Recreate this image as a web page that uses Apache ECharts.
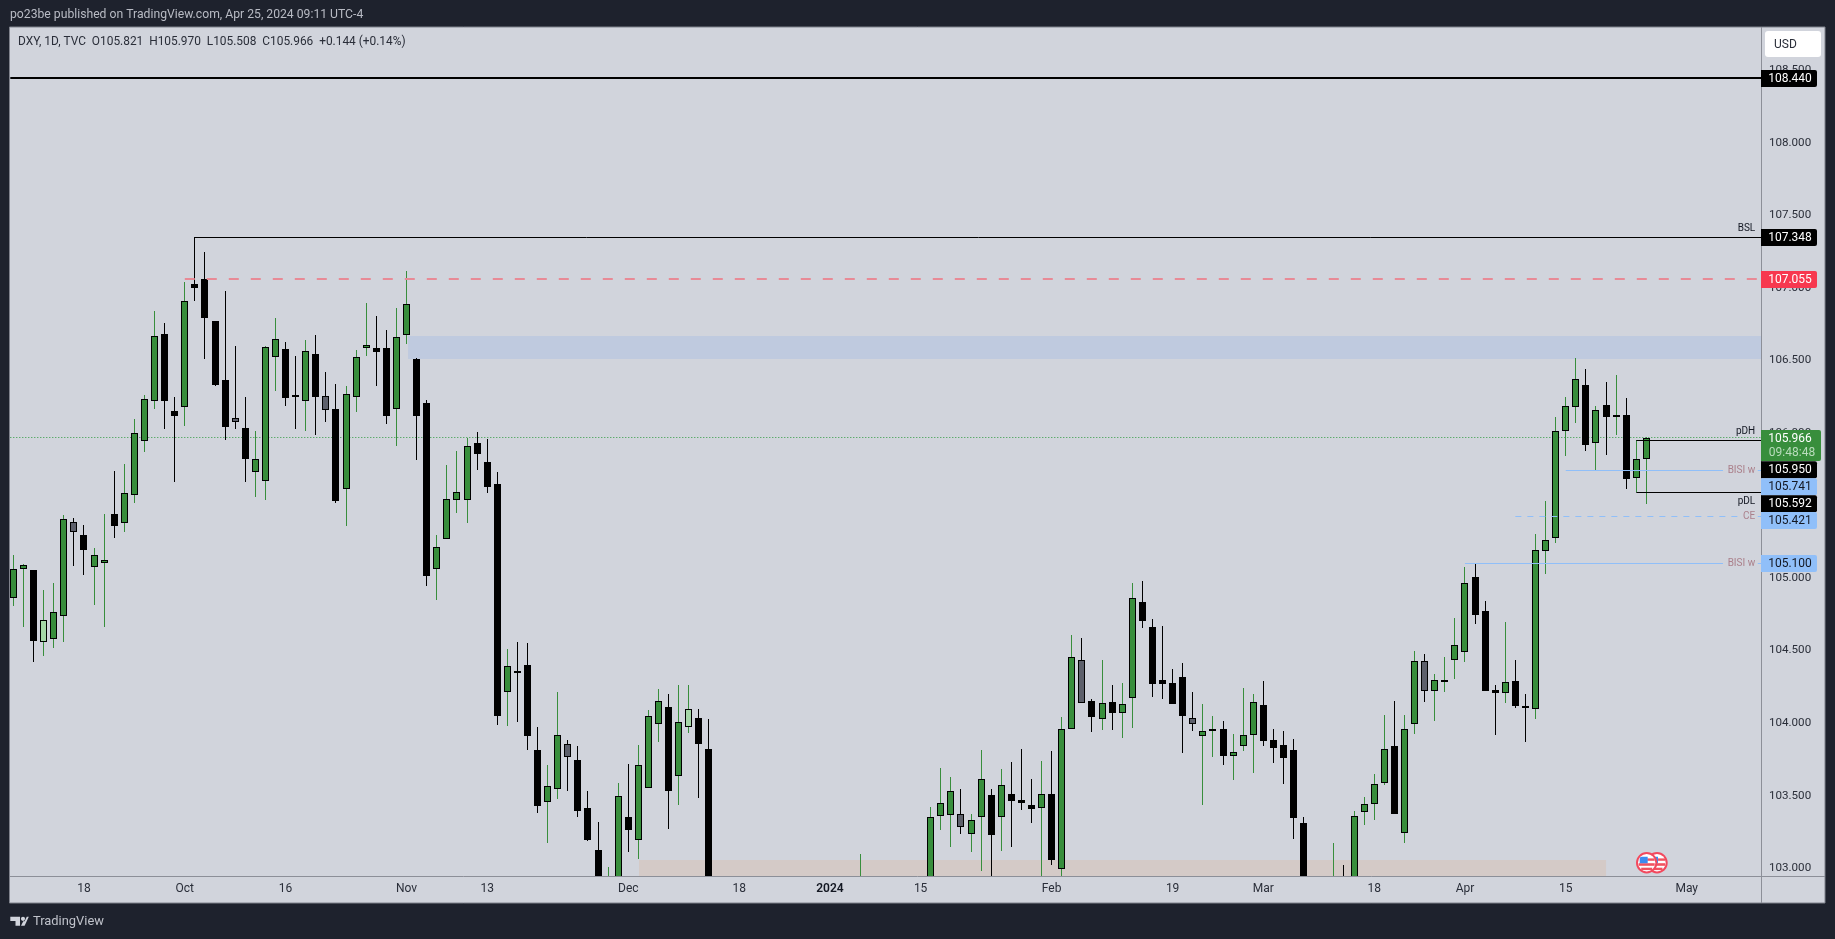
<!DOCTYPE html>
<html><head><meta charset="utf-8">
<style>html,body{margin:0;padding:0;background:#1e222d;overflow:hidden}#c{width:1835px;height:939px}</style>
<script src="https://cdn.jsdelivr.net/npm/echarts@6/dist/echarts.min.js"></script>
</head><body><div id="c"></div>
<script>
const n14=[null,null,null,null,null,null,null,null,null,null,null,null,null,null];
const n6=[null,null,null,null,null,null];
const opens=[104.859,105.059,105.055,104.556,104.577,104.735,105.383,105.294,105.078,105.105,
105.441,105.381,105.569,105.941,106.217,106.679,106.148,106.176,107.023,107.058,
106.768,106.362,106.100,106.031,105.728,105.670,106.520,106.575,106.261,106.217,
106.541,106.252,106.162,105.611,106.245,106.582,106.582,106.582,106.162,106.672,
106.509,106.203,105.064,105.266,105.535,105.535,105.928,105.799,105.645,104.212,
104.356,104.398,103.812,103.458,103.543,103.853,103.743,103.412,103.125,102.600,
102.750,103.350,103.192,103.550,103.991,104.108,103.633,103.975,104.032,103.819,
...n14,102.450,...n6,102.800,103.357,103.364,103.371,103.233,103.350,103.502,103.350,103.508,
103.467,103.433,103.412,103.508,102.992,103.957,104.432,104.150,104.025,104.143,
104.071,104.170,104.832,104.659,104.294,104.274,104.315,104.032,103.908,103.943,
103.957,103.775,103.839,103.915,104.122,103.881,103.846,103.812,103.309,null,
null,102.600,102.900,102.800,103.385,103.440,103.584,103.839,103.240,103.991,
104.425,104.218,104.287,104.432,104.487,105.004,104.770,104.228,104.205,104.287,
104.117,104.094,105.183,105.273,106.010,106.176,106.327,105.928,106.190,106.116,
106.121,105.691,105.821];
const highs=[105.158,105.094,105.055,104.917,104.963,105.431,105.413,105.365,105.204,105.438,
105.737,105.785,106.093,106.258,106.840,106.755,106.245,107.037,107.348,107.244,
106.768,106.977,106.598,106.245,106.013,106.601,106.789,106.624,106.527,106.638,
106.672,106.417,106.334,106.320,106.571,106.893,106.803,106.706,106.858,107.115,
106.513,106.226,105.296,105.778,105.875,105.962,106.006,105.958,105.730,104.510,
104.556,104.552,103.973,103.711,104.214,103.881,103.842,103.529,103.318,103.008,
103.584,103.715,103.846,104.090,104.232,104.198,104.260,104.260,104.094,104.025,
...n14,103.097,...n6,103.419,103.688,103.626,103.543,103.371,103.814,103.543,103.683,103.731,
103.819,103.614,103.736,103.807,104.039,104.604,104.584,104.163,104.432,104.260,
104.274,104.965,104.976,104.715,104.666,104.370,104.411,104.212,104.129,104.046,
104.012,103.922,104.239,104.200,104.287,103.957,103.943,103.888,103.350,null,
null,103.171,103.022,103.391,103.490,103.646,104.053,104.150,104.053,104.494,
104.473,104.336,104.453,104.721,105.073,105.101,104.841,104.260,104.696,104.434,
104.200,105.303,105.528,106.107,106.247,106.513,106.438,106.185,106.348,106.399,
106.238,105.950,105.970];
const lows=[104.809,104.664,104.423,104.464,104.519,104.561,105.085,105.022,104.816,104.664,
105.278,105.317,105.519,105.870,106.167,106.024,105.663,106.049,106.911,106.511,
106.325,105.953,106.029,105.663,105.560,105.539,106.291,106.187,106.029,106.015,
105.983,106.077,105.519,105.360,106.144,106.532,106.323,106.063,105.912,106.615,
105.813,104.947,104.848,105.266,105.450,105.381,105.744,105.588,103.986,103.982,
104.009,103.816,103.382,103.175,103.476,103.534,103.355,103.189,102.700,102.500,
102.700,103.113,103.065,103.550,103.872,103.270,103.437,103.934,103.486,102.700,
...n14,102.400,...n6,102.700,103.263,103.148,103.238,103.113,102.980,102.900,103.118,103.146,
103.403,103.313,102.900,103.022,102.940,103.957,104.136,103.940,103.952,103.952,
103.897,103.966,104.655,104.179,104.168,104.133,103.796,103.947,103.437,103.768,
103.711,103.610,103.810,103.658,103.844,103.725,103.582,103.203,102.750,null,
null,102.500,102.600,102.750,103.297,103.334,103.573,103.375,103.175,103.927,
104.145,104.014,104.214,104.303,104.423,104.685,104.223,103.920,104.136,104.101,
103.869,104.025,105.029,105.243,105.843,106.070,105.877,105.744,105.847,105.985,
105.613,105.592,105.508];
const closes=[105.059,105.087,104.568,104.708,104.763,105.404,105.319,105.195,105.156,105.121,
105.360,105.583,105.997,106.231,106.665,106.222,106.118,106.906,107.000,106.794,
106.332,106.042,106.077,105.822,105.817,106.594,106.644,106.242,106.254,106.562,
106.249,106.160,105.533,106.270,106.525,106.603,106.559,106.118,106.663,106.886,
106.118,105.016,105.211,105.542,105.590,105.907,105.856,105.629,104.051,104.391,
104.347,103.913,103.430,103.564,103.915,103.764,103.396,103.194,102.850,102.850,
103.495,103.265,103.708,104.046,104.150,103.534,104.005,104.094,103.858,102.750,
...n14,102.700,...n6,103.350,103.447,103.529,103.281,103.329,103.612,103.231,103.571,103.465,
103.451,103.410,103.508,103.058,103.957,104.453,104.136,104.044,104.136,104.071,
104.129,104.859,104.705,104.271,104.271,104.133,104.051,103.991,103.943,103.957,
103.775,103.803,103.915,104.143,103.878,103.830,103.761,103.348,102.800,null,
null,102.850,102.700,103.357,103.440,103.578,103.819,103.375,103.961,104.425,
104.218,104.294,104.294,104.535,104.963,104.747,104.223,104.205,104.280,104.120,
104.108,105.190,105.259,106.010,106.183,106.369,105.918,106.155,106.111,106.121,
105.684,105.817,105.966];
const greyBars=[6,22,31,55,94,106,117,140];
const lightBars=[3,67,119];

const timeIndexes=[7,17,27,39,47,61,72,81,90,103,115,124,135,144,154,166];
const timeLabels=['18','Oct','16','Nov','13','Dec','18','2024','15','Feb','19','Mar','18','Apr','15','May'];
const priceTicks=[103,103.5,104,104.5,105,105.5,106,106.5,107,107.5,108,108.5];

const zoneStarts=[39.15,62.06];
const zoneEnds=[173.47,158];
const zoneTops=[106.667,103.056];
const zoneBottoms=[106.509,102.944];

const levelValues=[108.447,107.348,107.06,105.95,105.592,105.741,105.741,105.421,105.421,105.1,105.1];
const levelStarts=[-0.31,18,17,161,161,154,173.05,149,173.05,144,173.05];
const levelEnds=[173.47,173.47,173.47,173.47,173.47,169.6,173.47,171.5,173.47,169.6,173.47];
const levelKinds=['heavy','thin','red','thin','thin','blue','blue','blueDash','blueDash','blue','blue'];
const lastPrice=[105.966];

const noteTexts=['BSL','pDH','pDL','BISI w','CE','BISI w'];
const noteValues=[107.348,105.95,105.592,105.741,105.421,105.1];

const tagTexts=['108.440','107.348','107.055','105.950','105.741','105.592','105.421','105.100'];
const tagKinds=['black','black','red','black','blue','black','blue','blue'];
const tagTops=[70,229,271,461.3,478.3,495.3,512,555];

const kindStyle={
 heavy:{stroke:'#000',lineWidth:2},
 thin:{stroke:'#000',lineWidth:1},
 red:{stroke:'#e88a96',lineWidth:2,lineDash:[10,12]},
 blue:{stroke:'#90bff9',lineWidth:1},
 blueDash:{stroke:'#90bff9',lineWidth:1,lineDash:[6,6]},
 dot:{stroke:'#2e9b3e',lineWidth:1,lineDash:[1,2]}
};
const noteStyle={0:['#131722',-9],1:['#131722',-9],2:['#131722',9],3:['#ab808b',0],4:['#ab808b',0],5:['#ab808b',0]};
const tagFill={black:'#000',red:'#f7384f',blue:'#90bff9'};
const tagInk={black:'#fff',red:'#fff',blue:'#131722'};
const GREEN='#388e3c',FONT='Roboto, "Liberation Sans", sans-serif';

const X0=10.3,Y0=27.5,XR=1762,YB=876.3;
const candleRows=opens.map((o,i)=>o==null?null:[i,o,highs[i],lows[i],closes[i]]).filter(Boolean);

function renderCandle(params,api){
  const i=api.value(0),o=api.value(1),h=api.value(2),l=api.value(3),c=api.value(4);
  const up=c>=o;
  const x=Math.round(api.coord([i,o])[0]-0.5);
  const yH=Math.round(api.coord([i,h])[1]),yL=Math.round(api.coord([i,l])[1]);
  const yT=Math.round(api.coord([i,Math.max(o,c)])[1]),yB=Math.round(api.coord([i,Math.min(o,c)])[1]);
  const bh=Math.max(yB-yT,2);
  let fill=up?GREEN:'#000';
  if(greyBars.includes(i))fill='#5d606b';
  if(lightBars.includes(i))fill='#a5d6a7';
  const kids=[
    {type:'rect',shape:{x,y:yH,width:1,height:Math.max(yL-yH,1)},style:{fill:up?GREEN:'#000'}},
    {type:'rect',shape:{x:x-3,y:yT,width:7,height:bh},style:{fill:'#000'}}
  ];
  if(bh>2)kids.push({type:'rect',shape:{x:x-2,y:yT+1,width:5,height:bh-2},style:{fill}});
  return {type:'group',children:kids};
}
function renderZone(params,api){
  const k=params.dataIndex;
  const a=api.coord([zoneStarts[k],zoneTops[k]]),b=api.coord([zoneEnds[k],zoneBottoms[k]]);
  return {type:'rect',shape:{x:a[0],y:Math.round(a[1]),width:b[0]-a[0],height:Math.round(b[1])-Math.round(a[1])},
    style:{fill:k===0?'#bfcadf':'#d4cac7'}};
}
function hline(x1,x2,v,style,api){
  const a=api.coord([x1,v]),b=api.coord([x2,v]);
  const w=style.lineWidth;
  const y=w%2?Math.round(a[1]-0.5)+0.5:Math.round(a[1]);
  return {type:'line',shape:{x1:a[0],y1:y,x2:b[0],y2:y},style:Object.assign({},style)};
}
function renderLevel(params,api){
  const k=params.dataIndex;
  return hline(levelStarts[k],levelEnds[k],levelValues[k],kindStyle[levelKinds[k]],api);
}
function renderDot(params,api){return hline(-0.31,173.47,lastPrice[params.dataIndex],kindStyle.dot,api);}
function renderNote(params,api){
  const k=params.dataIndex,s=noteStyle[k];
  const p=api.coord([172.8,noteValues[k]]);
  return {type:'text',style:{text:noteTexts[k],x:p[0],y:p[1]+s[1],fill:s[0],align:'right',verticalAlign:'middle',font:'10px '+FONT}};
}

const gr=[];
gr.push({type:'rect',z:-20,shape:{x:9.5,y:27,width:1815.5,height:876},style:{fill:'#d1d4dc',stroke:'#7f828c',lineWidth:1}});
gr.push({type:'line',z:20,shape:{x1:1761.5,y1:27,x2:1761.5,y2:903},style:{stroke:'#8c8f98',lineWidth:1}});
gr.push({type:'line',z:20,shape:{x1:10,y1:876.5,x2:1825,y2:876.5},style:{stroke:'#8c8f98',lineWidth:1}});
gr.push({type:'text',z:50,style:{text:'po23be published on TradingView.com, Apr 25, 2024 09:11 UTC-4',x:10,y:15,fill:'#b8bbc4',verticalAlign:'middle',font:'12.2px '+FONT}});
gr.push({type:'text',z:50,style:{text:'DXY, 1D, TVC  O105.821  H105.970  L105.508  C105.966  +0.144 (+0.14%)',x:18,y:42,fill:'#2a2e39',verticalAlign:'middle',font:'11.9px '+FONT}});
gr.push({type:'rect',z:50,shape:{x:1765,y:31,width:56,height:26,r:3},style:{fill:'#fff'}});
gr.push({type:'text',z:51,style:{text:'USD',x:1774,y:44.5,fill:'#2a2e39',verticalAlign:'middle',font:'12px '+FONT}});
tagTexts.forEach((t,k)=>{
  gr.push({type:'rect',z:60,shape:{x:1761,y:tagTops[k],width:56,height:17,r:[0,2,2,0]},style:{fill:tagFill[tagKinds[k]]}});
  gr.push({type:'text',z:61,style:{text:t,x:1790,y:tagTops[k]+8.7,fill:tagInk[tagKinds[k]],align:'center',verticalAlign:'middle',font:'12px '+FONT}});
});
gr.push({type:'rect',z:60,shape:{x:1761,y:430,width:60,height:31,r:[0,2,2,0]},style:{fill:GREEN}});
gr.push({type:'text',z:61,style:{text:'105.966',x:1790,y:438.8,fill:'#fff',align:'center',verticalAlign:'middle',font:'12px '+FONT}});
gr.push({type:'text',z:61,style:{text:'09:48:48',x:1792,y:452.5,fill:'#b9dcbc',align:'center',verticalAlign:'middle',font:'12px '+FONT}});
function flag(cx,z){
  const cy=862.7;
  gr.push({type:'circle',z,shape:{cx,cy,r:10.7},style:{fill:'#f2495e'}});
  gr.push({type:'circle',z,shape:{cx,cy,r:8.7},style:{fill:'#fff'}});
  gr.push({type:'rect',z,shape:{x:cx-8,y:cy+0.5,width:16,height:2.6},style:{fill:'#f0525f'}});
  gr.push({type:'rect',z,shape:{x:cx-5.5,y:cy+5,width:11,height:2.4},style:{fill:'#f0525f'}});
  gr.push({type:'rect',z,shape:{x:cx+0.5,y:cy-4.3,width:7.5,height:2.4},style:{fill:'#f0525f'}});
  gr.push({type:'rect',z,shape:{x:cx-7,y:cy-6,width:8,height:6.5,r:[2,0,0,0]},style:{fill:'#3d8bf0'}});
}
flag(1657,40);flag(1646.7,41);
gr.push({type:'polygon',z:50,shape:{points:[[10.3,916.7],[20,916.7],[20,925.7],[15.5,925.7],[15.5,921],[10.3,921]]},style:{fill:'#d1d4dc'}});
gr.push({type:'circle',z:50,shape:{cx:23,cy:918.8,r:2.1},style:{fill:'#d1d4dc'}});
gr.push({type:'polygon',z:50,shape:{points:[[24.6,921.2],[23.3,921.2],[21,925.7],[24.6,925.7],[28.8,916.7],[26.8,916.7]]},style:{fill:'#d1d4dc'}});
gr.push({type:'text',z:50,style:{text:'TradingView',x:33,y:921.7,fill:'#c0c3cb',verticalAlign:'middle',font:'12.9px '+FONT}});

const chart=echarts.init(document.getElementById('c'),null,{width:1835,height:939});
chart.setOption({
  animation:false,
  backgroundColor:'#1e222d',
  tooltip:{show:false},
  grid:{left:X0,top:Y0,right:1835-XR,bottom:939-YB,containLabel:false},
  xAxis:{type:'value',min:-0.31,max:173.47,splitLine:{show:false},axisTick:{show:false},axisLine:{show:false},
    axisLabel:{customValues:timeIndexes,margin:7,color:'#2a2e39',fontFamily:FONT,fontSize:12,
      formatter:v=>{const s=timeLabels[timeIndexes.indexOf(v)];return s==='2024'?'{y|2024}':s;},
      rich:{y:{fontWeight:600,color:'#131722',fontFamily:FONT,fontSize:12}}}},
  yAxis:{type:'value',position:'right',min:102.944,max:108.794,splitLine:{show:false},axisTick:{show:false},axisLine:{show:false},
    axisLabel:{customValues:priceTicks,margin:7,color:'#2a2e39',fontFamily:FONT,fontSize:11.6,formatter:v=>v.toFixed(3)}},
  series:[
    {type:'custom',name:'zones',z:1,clip:true,silent:true,renderItem:renderZone,data:zoneStarts.map((s,k)=>[s,zoneTops[k]])},
    {type:'custom',name:'last',z:1.5,clip:true,silent:true,renderItem:renderDot,data:lastPrice.map(v=>[0,v])},
    {type:'custom',name:'DXY',z:2,clip:true,silent:true,renderItem:renderCandle,encode:{x:0,y:[1,2,3,4]},data:candleRows},
    {type:'custom',name:'levels',z:3,clip:true,silent:true,renderItem:renderLevel,data:levelValues.map((v,k)=>[levelStarts[k],v])},
    {type:'custom',name:'notes',z:4,clip:true,silent:true,renderItem:renderNote,data:noteValues.map(v=>[172.8,v])}
  ],
  graphic:{elements:gr}
});
</script></body></html>
